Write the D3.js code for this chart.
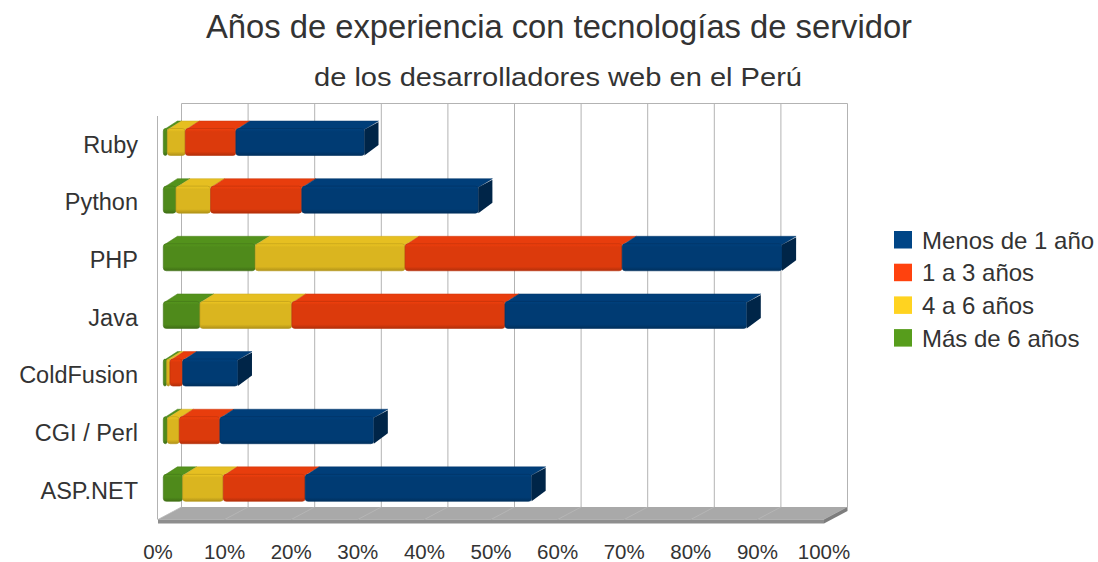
<!DOCTYPE html>
<html>
<head>
<meta charset="utf-8">
<style>
  body { margin: 0; background: #fff; }
  svg text { font-family: "Liberation Sans", Arial, sans-serif; fill: #333; }
</style>
</head>
<body>
<svg id="chart" width="1098" height="562"></svg>
<script src="https://cdn.jsdelivr.net/npm/d3@7/dist/d3.min.js"></script>
<script>
// data (percent of developers)
var categories = ["Ruby", "Python", "PHP", "Java", "ColdFusion", "CGI / Perl", "ASP.NET"];
var masDe6 = [0.6, 1.9, 13.8, 5.5, 0.5, 0.6, 2.9];
var de4a6 = [2.7, 5.2, 22.5, 13.8, 0.5, 1.8, 6.1];
var de1a3 = [7.6, 13.7, 32.6, 32.0, 1.9, 6.1, 12.3];
var menos1 = [19.3, 26.5, 24.0, 36.3, 8.3, 23.1, 34.0];
var seriesNames = ["Más de 6 años", "4 a 6 años", "1 a 3 años", "Menos de 1 año"];
var tickValues = [0, 10, 20, 30, 40, 50, 60, 70, 80, 90, 100];

var legendColors = ["#579d1c", "#ffd320", "#ff420e", "#004586"];
var faceColors = ["#4f8a1b", "#dab51f", "#dc3a0c", "#003b73"];

var svg = d3.select("#chart");

// oblique "3d" projection: z goes from front (0) to the back wall (1)
var depthX = 23.5, depthY = 12.5;
var plotTop = 116, plotBottom = 519.5;
var x = d3.scaleLinear().domain([0, 100]).range([158, 824]);
var y = d3.scaleBand().domain(categories).range([plotTop, plotBottom]);
function px(v, z) { return x(v) + z * depthX; }
function py(yy, z) { return yy - z * depthY; }

// gradients for the bar faces
var defs = svg.append("defs");
faceColors.forEach(function (c, i) {
  var g = defs.append("linearGradient").attr("id", "front" + i)
    .attr("x1", 0).attr("y1", 0).attr("x2", 0).attr("y2", 1);
  g.append("stop").attr("offset", "0").attr("stop-color", d3.color(c).brighter(0.25));
  g.append("stop").attr("offset", "0.12").attr("stop-color", c);
  g.append("stop").attr("offset", "0.85").attr("stop-color", c);
  g.append("stop").attr("offset", "1").attr("stop-color", d3.color(c).darker(0.6));
});

// ---- titles
svg.append("text").attr("x", 559).attr("y", 38).attr("text-anchor", "middle")
  .style("font-size", "33px").attr("textLength", 706).attr("lengthAdjust", "spacingAndGlyphs")
  .text("Años de experiencia con tecnologías de servidor");
svg.append("text").attr("x", 558).attr("y", 86).attr("text-anchor", "middle")
  .style("font-size", "26px").attr("textLength", 488).attr("lengthAdjust", "spacingAndGlyphs")
  .text("de los desarrolladores web en el Perú");

// ---- back wall grid
var wall = svg.append("g");
wall.append("line")
  .attr("x1", px(0, 1)).attr("x2", px(100, 1))
  .attr("y1", py(plotTop, 1)).attr("y2", py(plotTop, 1))
  .attr("stroke", "#b3b3b3");
wall.selectAll("line.grid").data(tickValues).enter().append("line")
  .attr("class", "grid")
  .attr("x1", function (d) { return px(d, 1); })
  .attr("x2", function (d) { return px(d, 1); })
  .attr("y1", py(plotTop, 1)).attr("y2", py(plotBottom, 1))
  .attr("stroke", "#b3b3b3");
// left wall edge
wall.append("line").attr("x1", 157.5).attr("x2", 157.5)
  .attr("y1", plotTop).attr("y2", plotBottom).attr("stroke", "#b3b3b3");

// ---- floor
var floor = svg.append("g");
floor.append("polygon")
  .attr("points", [[x(0), plotBottom], [px(0, 1), py(plotBottom, 1)],
    [px(100, 1), py(plotBottom, 1)], [x(100), plotBottom]].join(" "))
  .attr("fill", "#a9a9a9");
floor.selectAll("line").data(tickValues).enter().append("line")
  .attr("x1", function (d) { return x(d); })
  .attr("y1", plotBottom)
  .attr("x2", function (d) { return px(d, 1); })
  .attr("y2", py(plotBottom, 1))
  .attr("stroke", "#b9b9b9").attr("stroke-width", 0.8);
floor.append("rect").attr("x", x(0)).attr("y", plotBottom)
  .attr("width", x(100) - x(0)).attr("height", 4).attr("fill", "#8e8e8e");
floor.append("polygon")
  .attr("points", [[x(100), plotBottom], [px(100, 1), py(plotBottom, 1)],
    [px(100, 1), py(plotBottom, 1) + 4], [x(100), plotBottom + 4]].join(" "))
  .attr("fill", "#7d7d7d");

// ---- stacked bars
var rows = categories.map(function (c, i) {
  return { cat: c, s0: masDe6[i], s1: de4a6[i], s2: de1a3[i], s3: menos1[i] };
});
var stack = d3.stack().keys(["s0", "s1", "s2", "s3"]);
var stacked = stack(rows);

var z0 = 0.225, z1 = 0.825, barH = 27;
function barTop(cat) { return py(y(cat) + (y.bandwidth() - barH) / 2, z0); }

var bars = svg.append("g");
categories.forEach(function (cat, ci) {
  var g = bars.append("g");
  var top = barTop(cat);
  var back = top - (z1 - z0) * depthY;
  stacked.forEach(function (layer, si) {
    var v0 = layer[ci][0], v1 = layer[ci][1];
    var c = faceColors[si];
    // top face
    g.append("polygon")
      .attr("points", [[px(v0, z0) + 1, top + 1], [px(v0, z1), back], [px(v1, z1), back], [px(v1, z0), top + 1]].join(" "))
      .attr("fill", d3.color(c).brighter(0.15))
      .attr("stroke", d3.color(c).darker(0.2)).attr("stroke-width", 0.5);
    // front face
    g.append("rect")
      .attr("x", px(v0, z0)).attr("y", top)
      .attr("width", Math.max(px(v1, z0) - px(v0, z0), 1)).attr("height", barH)
      .attr("rx", 3)
      .attr("fill", "url(#front" + si + ")")
      .attr("stroke", d3.color(c).darker(0.5)).attr("stroke-width", 0.6);
    // right side face only on the last piece
    if (si === stacked.length - 1) {
      g.append("polygon")
        .attr("points", [[px(v1, z0), top + 1], [px(v1, z1), back + 1],
          [px(v1, z1), back + barH - 3], [px(v1, z0), top + barH]].join(" "))
        .attr("fill", d3.color(c).darker(1.3));
    }
  });
});

// ---- category labels
svg.selectAll("text.cat").data(categories).enter().append("text")
  .attr("class", "cat")
  .attr("x", 138)
  .attr("y", function (d) { return y(d) + y.bandwidth() / 2 + 8; })
  .attr("text-anchor", "end")
  .style("font-size", "23.5px")
  .text(function (d) { return d; });

// ---- x axis labels
svg.selectAll("text.tick").data(tickValues).enter().append("text")
  .attr("class", "tick")
  .attr("x", function (d) { return x(d); })
  .attr("y", 559)
  .attr("text-anchor", "middle")
  .style("font-size", "20.5px")
  .text(function (d) { return d + "%"; });

// ---- legend
var legendOrder = [3, 2, 1, 0];
var legend = svg.append("g").attr("transform", "translate(894,231)");
legendOrder.forEach(function (si, k) {
  legend.append("rect").attr("x", 0).attr("y", k * 32.7)
    .attr("width", 18).attr("height", 17.5).attr("fill", legendColors[si]);
  legend.append("text").attr("x", 28).attr("y", k * 32.7 + 17.5)
    .style("font-size", "24px")
    .text(seriesNames[si]);
});
</script>
</body>
</html>
